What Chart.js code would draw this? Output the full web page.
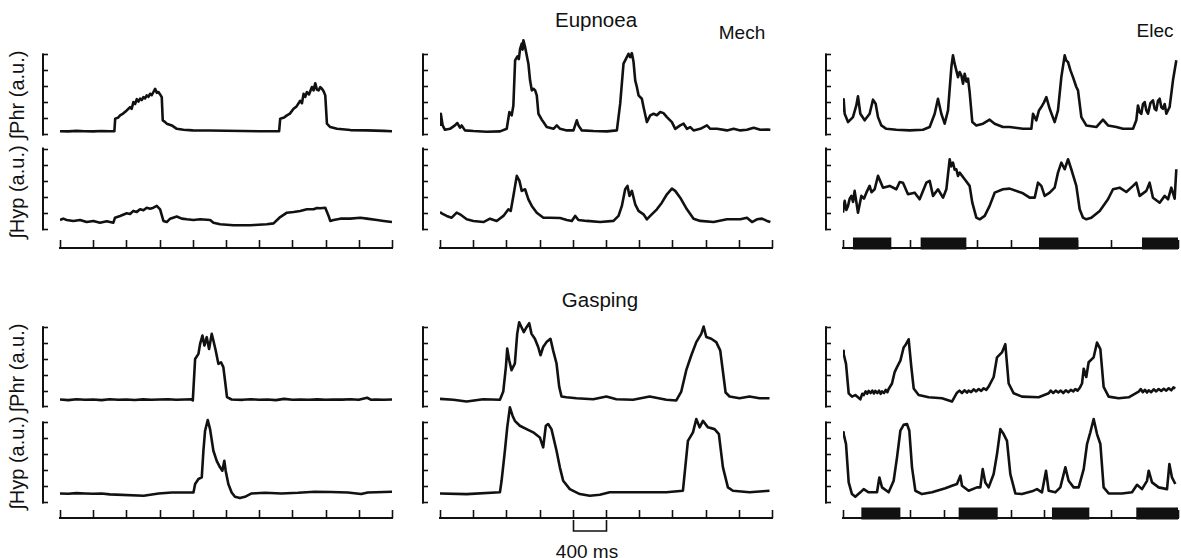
<!DOCTYPE html>
<html>
<head>
<meta charset="utf-8">
<script src="https://cdn.jsdelivr.net/npm/chart.js@4.4.0/dist/chart.umd.min.js"></script>
<style>
  body { margin: 0; background: #fff; width: 1181px; height: 558px; position: relative; overflow: hidden;
         font-family: "Liberation Sans", Arial, Helvetica, sans-serif; color: #111; }
  canvas { position: absolute; }
  .txt { position: absolute; transform: translate(-50%, -50%); white-space: nowrap; line-height: 1; font-size: 19px; }
  .big { font-size: 20.5px; }
  .ylab { position: absolute; transform: translate(-50%, -50%) rotate(-90deg); white-space: nowrap; line-height: 1; font-size: 20px; }
</style>
</head>
<body>
<div class="txt big" style="left:596px;top:20px">Eupnoea</div>
<div class="txt" style="left:742px;top:32px">Mech</div>
<div class="txt" style="left:1155px;top:30px">Elec</div>
<div class="txt big" style="left:600px;top:300px">Gasping</div>
<div class="txt" style="left:587px;top:551px">400 ms</div>
<div class="ylab" style="left:17px;top:95px">∫Phr (a.u.)</div>
<div class="ylab" style="left:17px;top:192px">∫Hyp (a.u.)</div>
<div class="ylab" style="left:17px;top:368px">∫Phr (a.u.)</div>
<div class="ylab" style="left:17px;top:463px">∫Hyp (a.u.)</div>

<script>
// ---------- data: [time ms, integrated activity a.u.] ----------
const auTicks = [0, 1, 2, 3, 4, 5];
const timeTicks = [0, 400, 800, 1200, 1600, 2000, 2400, 2800, 3200, 3600, 4000];
const scaleBarMs = [1600, 2000];

// stimulus periods (ms), Elec column
const eupElecStim = [[119, 577], [927, 1473], [2340, 2810], [3570, 4000]];
const gasElecStim = [[219, 685], [1381, 1847], [2495, 2941], [3502, 4000]];

// Eupnoea, control
const eupCtrlPhr = [[0,0.2],[100,0.19],[200,0.22],[300,0.2],[400,0.19],[500,0.21],[600,0.2],[655,0.2],[665,0.98],[700,1.05],[724,1.19],[760,1.3],[804,1.5],[844,1.7],[864,1.6],[884,2.02],[905,1.9],[925,2.2],[945,2.05],[965,2.23],[985,2.15],[1005,2.33],[1025,2.25],[1045,2.44],[1065,2.35],[1085,2.54],[1105,2.45],[1126,2.65],[1146,2.85],[1166,2.6],[1186,2.65],[1206,2.5],[1226,2.33],[1238,0.88],[1260,0.8],[1286,0.67],[1347,0.56],[1407,0.35],[1487,0.29],[1600,0.25],[1800,0.24],[2000,0.23],[2200,0.21],[2400,0.2],[2640,0.2],[2653,0.98],[2700,1.05],[2734,1.19],[2770,1.3],[2814,1.6],[2850,1.75],[2894,2.1],[2915,1.95],[2935,2.54],[2955,2.35],[2975,2.65],[3000,2.5],[3035,2.96],[3055,2.75],[3075,3.2],[3095,2.8],[3116,2.75],[3136,2.95],[3156,2.85],[3176,2.7],[3196,2.44],[3216,0.67],[3256,0.46],[3337,0.35],[3500,0.27],[3700,0.25],[3900,0.22],[4000,0.2]];
const eupCtrlHyp = [[0,0.58],[40,0.66],[80,0.58],[161,0.52],[241,0.58],[322,0.45],[402,0.52],[482,0.41],[563,0.5],[643,0.41],[663,0.72],[724,0.83],[804,0.99],[844,0.95],[884,1.14],[925,1.08],[965,1.24],[1005,1.18],[1045,1.34],[1086,1.28],[1126,1.34],[1166,1.45],[1206,1.24],[1246,0.52],[1286,0.45],[1327,0.66],[1407,0.79],[1467,0.66],[1528,0.62],[1608,0.58],[1688,0.62],[1809,0.58],[1849,0.41],[1930,0.31],[2090,0.25],[2291,0.25],[2492,0.31],[2573,0.37],[2653,0.76],[2734,1.03],[2814,1.07],[2894,1.14],[2975,1.24],[3055,1.24],[3096,1.32],[3136,1.3],[3196,1.34],[3236,0.83],[3256,0.52],[3296,0.58],[3377,0.66],[3497,0.66],[3618,0.72],[3698,0.66],[3819,0.58],[3899,0.52],[4000,0.45]];

// Eupnoea, mechanical stimulation
const eupMechPhr = [[0,0.6],[10,1.29],[32,0.56],[60,0.29],[120,0.35],[180,0.56],[209,0.71],[241,0.42],[261,0.56],[301,0.25],[402,0.21],[563,0.17],[724,0.19],[804,0.35],[836,1.4],[864,1.19],[884,1.81],[905,4.63],[933,4.88],[950,4.7],[965,5.35],[985,5.67],[995,5.3],[1005,5.88],[1025,5.46],[1037,5.15],[1065,4.42],[1085,3.38],[1106,2.75],[1126,2.85],[1146,2.75],[1166,2.44],[1186,1.29],[1226,0.92],[1246,0.77],[1286,0.46],[1367,0.35],[1407,0.56],[1447,0.35],[1528,0.25],[1608,0.25],[1628,0.56],[1648,0.88],[1668,0.56],[1709,0.25],[1849,0.21],[2010,0.19],[2131,0.25],[2171,1.92],[2211,4.42],[2251,4.83],[2271,5.04],[2291,4.83],[2312,5.08],[2332,4.52],[2352,3.38],[2372,2.96],[2392,2.44],[2432,2.23],[2452,1.71],[2492,0.77],[2533,1.19],[2573,1.29],[2613,1.2],[2653,1.4],[2693,1.33],[2734,1.08],[2794,0.77],[2834,0.35],[2894,0.56],[2935,0.67],[2975,0.35],[3015,0.46],[3055,0.25],[3136,0.35],[3216,0.56],[3256,0.35],[3337,0.35],[3457,0.25],[3538,0.35],[3618,0.25],[3698,0.29],[3779,0.42],[3859,0.29],[3940,0.31],[3980,0.29]];
const eupMechHyp = [[0,1.07],[20,0.99],[80,0.83],[141,0.72],[201,1.03],[241,0.93],[322,0.62],[402,0.52],[523,0.45],[603,0.66],[683,0.52],[764,0.83],[824,1.24],[852,1.14],[884,2.07],[925,3.31],[957,3.0],[985,2.38],[1025,2.48],[1065,1.86],[1106,1.45],[1166,1.03],[1246,0.72],[1327,0.72],[1447,0.7],[1528,0.58],[1588,0.52],[1628,0.83],[1668,0.58],[1769,0.52],[1930,0.45],[2090,0.52],[2151,0.83],[2191,1.45],[2231,2.48],[2259,2.69],[2283,2.07],[2312,2.38],[2352,1.55],[2392,1.14],[2452,0.93],[2492,0.62],[2533,0.83],[2613,1.24],[2673,1.65],[2734,2.17],[2794,2.52],[2834,2.38],[2894,1.96],[2975,1.24],[3055,0.66],[3136,0.52],[3296,0.45],[3457,0.62],[3618,0.62],[3698,0.72],[3759,0.45],[3819,0.62],[3879,0.66],[3940,0.52],[3980,0.45]];

// Eupnoea, electrical stimulation
const eupElecPhr = [[0,1.5],[8,2.19],[20,1.29],[60,0.77],[119,1.08],[159,1.81],[179,2.38],[207,1.29],[259,0.88],[318,1.29],[358,2.17],[390,1.92],[418,1.08],[458,0.56],[517,0.35],[637,0.29],[796,0.25],[955,0.29],[1035,0.46],[1095,1.29],[1134,2.23],[1174,1.29],[1214,0.67],[1254,1.5],[1294,4.21],[1313,4.94],[1333,4.42],[1373,3.58],[1393,3.9],[1413,3.69],[1433,3.17],[1453,3.79],[1473,3.3],[1493,3.48],[1512,2.65],[1544,0.77],[1592,0.56],[1672,0.67],[1751,0.92],[1811,0.67],[1910,0.46],[1990,0.46],[2149,0.35],[2249,0.35],[2269,1.29],[2308,0.88],[2340,1.5],[2368,1.71],[2400,2.0],[2428,2.33],[2468,1.6],[2527,0.77],[2567,1.5],[2607,3.58],[2647,4.94],[2667,4.6],[2687,4.52],[2716,4.0],[2746,3.58],[2786,2.96],[2806,2.75],[2846,1.08],[2905,0.56],[3025,0.46],[3104,0.92],[3164,0.56],[3264,0.46],[3343,0.35],[3463,0.35],[3502,0.88],[3522,1.81],[3542,1.4],[3562,1.29],[3582,1.9],[3602,2.02],[3622,1.5],[3642,1.29],[3670,1.95],[3701,2.13],[3721,1.6],[3741,1.5],[3761,2.1],[3781,2.23],[3801,1.7],[3821,1.6],[3841,1.9],[3861,1.29],[3900,1.71],[3940,3.38],[3980,4.63]];
const eupElecHyp = [[0,1.03],[20,1.76],[40,1.2],[60,1.45],[80,1.9],[100,2.07],[120,1.7],[139,2.38],[179,1.03],[219,2.07],[250,1.9],[279,2.27],[318,2.69],[340,2.3],[378,2.48],[418,3.31],[478,2.58],[557,2.69],[637,2.48],[677,2.93],[716,2.89],[776,2.17],[856,2.27],[915,1.86],[995,2.89],[1035,3.0],[1075,2.07],[1134,2.48],[1194,1.96],[1234,2.48],[1274,4.34],[1290,3.9],[1313,4.13],[1333,3.7],[1353,3.72],[1373,3.3],[1393,3.51],[1453,3.1],[1512,2.69],[1544,1.65],[1592,0.72],[1632,0.62],[1692,0.83],[1751,1.45],[1811,2.27],[1910,2.48],[1990,2.52],[2149,2.23],[2229,1.96],[2289,1.96],[2328,2.89],[2368,2.69],[2408,2.07],[2468,2.27],[2527,2.58],[2567,3.51],[2607,4.13],[2647,3.72],[2687,4.34],[2726,3.72],[2786,2.69],[2826,1.24],[2866,0.72],[2905,0.62],[2965,0.72],[3065,1.14],[3164,1.86],[3224,2.48],[3303,2.58],[3383,2.31],[3463,2.69],[3502,2.89],[3542,2.07],[3622,2.38],[3661,2.89],[3701,1.96],[3781,1.65],[3841,2.07],[3881,1.86],[3920,2.58],[3960,1.9],[3980,3.72]];

// Gasping, control
const gasCtrlPhr = [[0,0.44],[100,0.4],[200,0.46],[300,0.42],[400,0.44],[500,0.4],[600,0.46],[700,0.42],[800,0.44],[900,0.41],[1000,0.45],[1100,0.42],[1200,0.44],[1300,0.46],[1400,0.42],[1500,0.44],[1580,0.46],[1600,0.38],[1628,3.0],[1668,3.32],[1688,3.95],[1716,4.47],[1740,3.84],[1768,4.37],[1796,3.63],[1828,4.58],[1848,4.16],[1876,3.53],[1908,2.69],[1940,2.79],[1968,2.48],[1988,1.64],[2012,0.59],[2068,0.44],[2200,0.42],[2300,0.46],[2400,0.42],[2500,0.44],[2600,0.4],[2700,0.48],[2800,0.42],[2900,0.44],[3000,0.42],[3100,0.45],[3200,0.42],[3300,0.44],[3400,0.43],[3500,0.46],[3600,0.42],[3700,0.55],[3750,0.42],[3800,0.44],[3900,0.42],[4000,0.44]];
const gasCtrlHyp = [[0,0.56],[100,0.54],[200,0.58],[300,0.56],[400,0.54],[500,0.56],[600,0.5],[1008,0.42],[1188,0.56],[1348,0.62],[1608,0.62],[1628,1.15],[1668,1.46],[1708,1.56],[1728,3.23],[1748,4.48],[1780,5.15],[1808,4.58],[1848,3.23],[1888,2.6],[1928,2.19],[1956,1.98],[1980,2.6],[1996,1.98],[2028,1.15],[2068,0.62],[2108,0.35],[2168,0.27],[2228,0.35],[2308,0.56],[2468,0.6],[2668,0.56],[2868,0.6],[3068,0.67],[3268,0.65],[3468,0.62],[3628,0.52],[3708,0.62],[4000,0.67]];

// Gasping, mechanical stimulation
const gasMechPhr = [[0,0.48],[160,0.42],[321,0.31],[521,0.46],[722,0.42],[762,0.94],[794,2.5],[810,3.65],[834,2.92],[862,2.29],[902,2.71],[930,4.58],[954,5.31],[982,5.0],[1010,4.69],[1043,5.0],[1075,5.25],[1103,4.58],[1143,4.27],[1183,3.75],[1211,3.23],[1243,3.75],[1283,4.06],[1331,4.27],[1363,3.54],[1404,2.71],[1436,1.25],[1464,0.63],[1524,0.58],[1644,0.52],[1845,0.46],[2005,0.63],[2125,0.46],[2326,0.42],[2526,0.63],[2727,0.42],[2847,0.38],[2907,0.94],[2967,2.29],[3028,3.23],[3088,4.06],[3148,4.58],[3176,5.04],[3208,4.38],[3268,4.27],[3328,4.06],[3376,3.54],[3409,2.19],[3441,0.88],[3489,0.63],[3609,0.52],[3729,0.63],[3850,0.52],[3970,0.52]];
const gasMechHyp = [[0,0.56],[321,0.52],[722,0.63],[742,1.35],[782,3.23],[810,4.69],[842,5.94],[874,5.42],[902,5.1],[962,4.79],[1043,4.58],[1123,4.38],[1203,4.06],[1243,3.44],[1275,4.79],[1303,4.9],[1343,4.58],[1404,3.23],[1444,2.19],[1484,1.35],[1564,0.83],[1684,0.52],[1805,0.42],[1925,0.48],[2045,0.63],[2326,0.63],[2727,0.63],[2927,0.73],[2987,3.85],[3048,4.38],[3088,5.21],[3128,4.69],[3168,5.1],[3228,4.69],[3308,4.58],[3360,4.27],[3409,2.19],[3469,0.94],[3529,0.73],[3729,0.63],[3970,0.73]];

// Gasping, electrical stimulation
const gasElecPhr = [[0,3.51],[8,3.31],[36,2.69],[68,0.83],[107,0.62],[147,0.72],[207,0.45],[230,0.8],[247,0.72],[270,0.95],[290,0.8],[306,0.98],[330,0.85],[350,1.0],[370,0.82],[386,0.98],[410,0.85],[430,1.0],[450,0.8],[466,0.95],[490,0.85],[510,1.05],[530,0.9],[545,1.1],[585,1.45],[617,2.17],[645,2.48],[685,2.89],[724,3.72],[752,3.93],[784,4.24],[816,2.48],[844,1.14],[903,0.72],[1023,0.58],[1182,0.52],[1301,0.31],[1361,0.87],[1390,1.0],[1420,0.85],[1450,1.02],[1480,0.88],[1500,1.0],[1530,0.9],[1560,1.08],[1590,0.95],[1620,1.1],[1650,0.98],[1680,1.15],[1710,1.05],[1739,1.25],[1799,1.86],[1839,3.1],[1898,3.41],[1938,3.93],[1978,1.45],[2038,0.83],[2137,0.62],[2336,0.58],[2456,0.83],[2480,1.0],[2510,0.85],[2540,1.0],[2570,0.88],[2600,1.0],[2630,0.85],[2660,1.02],[2690,0.9],[2720,1.05],[2750,0.95],[2774,1.1],[2800,1.0],[2830,1.2],[2854,1.45],[2874,2.38],[2905,1.86],[2933,2.79],[2993,3.1],[3033,4.03],[3073,3.62],[3112,1.24],[3172,0.62],[3291,0.52],[3411,0.58],[3530,0.93],[3555,1.1],[3580,0.9],[3605,1.05],[3630,0.88],[3650,1.02],[3680,0.9],[3710,1.08],[3740,0.95],[3769,1.1],[3800,0.98],[3830,1.12],[3860,1.0],[3889,1.15],[3920,1.02],[3945,1.2],[3968,1.14]];
const gasElecHyp = [[0,4.38],[8,4.27],[36,3.65],[68,1.25],[107,0.52],[147,0.35],[207,0.63],[247,0.83],[306,0.63],[406,0.63],[434,1.56],[466,0.94],[545,0.63],[605,1.35],[645,2.81],[685,4.48],[724,4.85],[764,4.9],[792,4.48],[824,2.19],[864,0.73],[943,0.52],[1063,0.63],[1222,0.88],[1301,1.04],[1361,1.15],[1401,1.67],[1421,1.04],[1500,0.73],[1600,0.94],[1640,0.94],[1668,2.08],[1699,1.25],[1739,0.94],[1799,1.77],[1839,3.02],[1879,4.58],[1918,4.27],[1958,3.85],[1998,1.77],[2058,0.56],[2137,0.52],[2257,0.69],[2316,0.83],[2376,0.63],[2424,1.98],[2456,0.73],[2535,0.63],[2595,0.94],[2655,2.19],[2694,1.35],[2754,0.94],[2814,0.94],[2874,2.08],[2914,3.65],[2953,4.38],[2993,5.21],[3033,4.27],[3073,3.65],[3112,0.94],[3172,0.56],[3331,0.56],[3451,0.63],[3511,1.1],[3570,0.83],[3630,1.35],[3650,1.98],[3690,1.25],[3769,0.94],[3869,0.83],[3897,2.4],[3928,1.56],[3968,1.15]];

// ---------- layout (screen pixels) ----------
const COLS = [
  { left: 60, right: 392 },
  { left: 440, right: 772 },
  { left: 843, right: 1178 }
];
const Y_MIN = -0.6;
const Y_MAX = 6.4;
const INK = "#111";

// bracket-style y axis, ticks pointing into the plot
const bracketPlugin = {
  id: "bracket",
  afterDraw(chart) {
    const c = chart.ctx;
    const y = chart.scales.y;
    const bx = chart.chartArea.left - 17;
    c.save();
    c.strokeStyle = INK;
    c.lineWidth = 2;
    c.beginPath();
    c.moveTo(bx, y.getPixelForValue(auTicks[0]) + 1);
    c.lineTo(bx, y.getPixelForValue(auTicks[auTicks.length - 1]) - 1);
    c.stroke();
    c.lineWidth = 1.6;
    auTicks.forEach(v => {
      const py = Math.round(y.getPixelForValue(v)) + 0.5;
      c.beginPath();
      c.moveTo(bx - 1, py);
      c.lineTo(bx + 5, py);
      c.stroke();
    });
    c.restore();
  }
};

// time axis with upward ticks (+ optional scale bar)
const timeAxisPlugin = {
  id: "timeAxis",
  beforeDatasetsDraw(chart, args, opts) {
    const c = chart.ctx;
    const x = chart.scales.x;
    const y0 = chart.scales.y.getPixelForValue(0);
    c.save();
    c.strokeStyle = INK;
    c.lineWidth = 2;
    c.beginPath();
    c.moveTo(x.getPixelForValue(timeTicks[0]) - 1, y0);
    c.lineTo(x.getPixelForValue(timeTicks[timeTicks.length - 1]) + 1, y0);
    c.stroke();
    c.lineWidth = 1.6;
    timeTicks.forEach(t => {
      const px = Math.round(x.getPixelForValue(t)) + 0.5;
      c.beginPath();
      c.moveTo(px, y0);
      c.lineTo(px, y0 - 8);
      c.stroke();
    });
    if (opts.scaleBar) {
      const a = Math.round(x.getPixelForValue(scaleBarMs[0])) + 0.5;
      const b = Math.round(x.getPixelForValue(scaleBarMs[1])) + 0.5;
      c.beginPath();
      c.moveTo(a, y0 + 2);
      c.lineTo(a, y0 + 13);
      c.lineTo(b, y0 + 13);
      c.lineTo(b, y0 + 2);
      c.stroke();
    }
    c.restore();
  }
};

function place(canvas, left, top, w, h) {
  canvas.width = w;
  canvas.height = h;
  canvas.style.left = left + "px";
  canvas.style.top = top + "px";
  document.body.appendChild(canvas);
}

function makeTrace(col, top, bottom, data) {
  const u = (bottom - top) / 5;
  const padL = 24;
  const canvas = document.createElement("canvas");
  place(canvas, col.left - padL, Math.round(top - u * (Y_MAX - 5)),
        col.right - col.left + padL + 4, Math.round(u * (Y_MAX - Y_MIN)));
  new Chart(canvas, {
    type: "line",
    data: {
      datasets: [{
        data: data.map(p => ({ x: p[0], y: p[1] })),
        borderColor: INK,
        borderWidth: 2.6,
        borderJoinStyle: "round",
        pointRadius: 0,
        tension: 0,
        fill: false
      }]
    },
    options: {
      responsive: false,
      animation: false,
      events: [],
      layout: { padding: { left: padL, right: 4, top: 0, bottom: 0 } },
      plugins: { legend: { display: false }, tooltip: { enabled: false } },
      scales: {
        x: { type: "linear", min: 0, max: 4000, display: false },
        y: { min: Y_MIN, max: Y_MAX, display: false }
      }
    },
    plugins: [bracketPlugin]
  });
}

// y in this chart is pixels relative to the axis line
function makeTimeAxis(col, axisY, stim, scaleBar) {
  const canvas = document.createElement("canvas");
  place(canvas, col.left - 4, axisY - 16, col.right - col.left + 8, 34);
  const segs = [];
  (stim || []).forEach(s => {
    segs.push({ x: s[0], y: 4.5 }, { x: s[1], y: 4.5 }, { x: s[1], y: null });
  });
  new Chart(canvas, {
    type: "line",
    data: {
      datasets: [{
        data: segs,
        borderColor: INK,
        borderWidth: 12,
        borderCapStyle: "butt",
        pointRadius: 0,
        spanGaps: false,
        fill: false
      }]
    },
    options: {
      responsive: false,
      animation: false,
      events: [],
      layout: { padding: { left: 4, right: 4, top: 0, bottom: 0 } },
      plugins: { legend: { display: false }, tooltip: { enabled: false }, timeAxis: { scaleBar: !!scaleBar } },
      scales: {
        x: { type: "linear", min: 0, max: 4000, display: false },
        y: { min: -18, max: 16, display: false }
      }
    },
    plugins: [timeAxisPlugin]
  });
}

// Eupnoea
makeTrace(COLS[0], 54, 134, eupCtrlPhr);
makeTrace(COLS[0], 149, 230, eupCtrlHyp);
makeTrace(COLS[1], 54, 134, eupMechPhr);
makeTrace(COLS[1], 149, 230, eupMechHyp);
makeTrace(COLS[2], 54, 134, eupElecPhr);
makeTrace(COLS[2], 149, 230, eupElecHyp);
makeTimeAxis(COLS[0], 248);
makeTimeAxis(COLS[1], 248);
makeTimeAxis(COLS[2], 248, eupElecStim);

// Gasping
makeTrace(COLS[0], 327, 406, gasCtrlPhr);
makeTrace(COLS[0], 422, 502, gasCtrlHyp);
makeTrace(COLS[1], 327, 406, gasMechPhr);
makeTrace(COLS[1], 422, 502, gasMechHyp);
makeTrace(COLS[2], 327, 406, gasElecPhr);
makeTrace(COLS[2], 422, 502, gasElecHyp);
makeTimeAxis(COLS[0], 518);
makeTimeAxis(COLS[1], 518, null, true);
makeTimeAxis(COLS[2], 518, gasElecStim);
</script>
</body>
</html>
